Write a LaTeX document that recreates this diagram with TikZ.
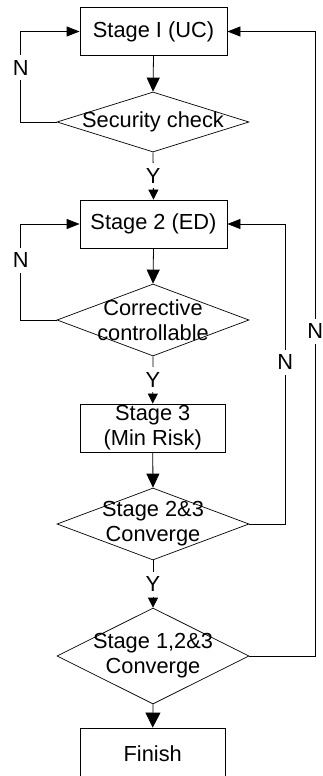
\documentclass[tikz,border=0pt]{standalone}
\usepackage{fontspec}
\setmainfont{Liberation Sans}
\usetikzlibrary{shapes.geometric,arrows.meta}
\begin{document}
\begin{tikzpicture}[x=1pt,y=-1pt,
  every node/.style={font=\fontsize{21.8}{25}\selectfont},
  stagebox/.style={draw, line width=0.8pt, inner sep=0pt, minimum width=147pt,
    minimum height=48pt, align=center},
  decision/.style={draw, line width=0.7pt, diamond, inner sep=0pt,
    minimum width=192pt},
  flow/.style={line width=0.8pt, -{Triangle[length=14pt,width=13pt]}},
  yflow/.style={line width=0.8pt, -{Triangle[length=10pt,width=10pt]}},
  loopflow/.style={line width=0.8pt, -{Triangle[length=13pt,width=10pt]}},
  lab/.style={fill=white, inner xsep=2pt, inner ysep=5pt},
]
\useasboundingbox (0,0) rectangle (322,776);
\clip (0,0) rectangle (322,776);

% process boxes
\node[stagebox] (b1) at (153.5,31.5) {Stage I (UC)};
\node[stagebox] (b2) at (153.5,224) {Stage 2 (ED)};
\node[stagebox, minimum width=145pt] (b3) at (152.75,428) {Stage 3\\(Min Risk)};
\node[stagebox, minimum width=145pt, minimum height=52pt] (fin) at (152.75,754) {Finish};

% decisions
\node[decision, minimum height=60pt, label={[align=center]center:Security check}] (d1) at (153,122) {};
\node[decision, minimum height=72pt, label={[align=center]center:Corrective\\controllable}] (d2) at (153,320) {};
\node[decision, minimum height=72pt, label={[align=center]center:Stage 2\&3\\Converge}] (d3) at (153,524) {};
\node[decision, minimum height=96pt, label={[align=center]center:Stage 1,2\&3\\Converge}] (d4) at (153,656) {};

% main flow
\draw[flow] (b1.south) -- (d1.north);
\draw[yflow] (d1.south) -- node[lab]{Y} (b2.north);
\draw[flow] (b2.south) -- (d2.north);
\draw[yflow] (d2.south) -- node[lab]{Y} (b3.north);
\draw[flow] (b3.south) -- (d3.north);
\draw[yflow] (d3.south) -- node[lab]{Y} (d4.north);
\draw[flow, -{Triangle[length=15pt,width=15pt]}] (d4.south) -- (fin.north);

% feedback loops
\draw[loopflow] (d1.west) -- ++(-36,0) |- node[lab,pos=0.3]{N} (b1.west);
\draw[loopflow] (d2.west) -- ++(-36,0) |- node[lab,pos=0.31]{N} (b2.west);
\draw[loopflow] (d3.east) -- ++(36,0) |- node[lab,pos=0.27]{N} (b2.east);
\draw[loopflow] (d4.east) -- ++(66,0) |- node[lab,pos=0.26]{N} (b1.east);
\end{tikzpicture}
\end{document}
